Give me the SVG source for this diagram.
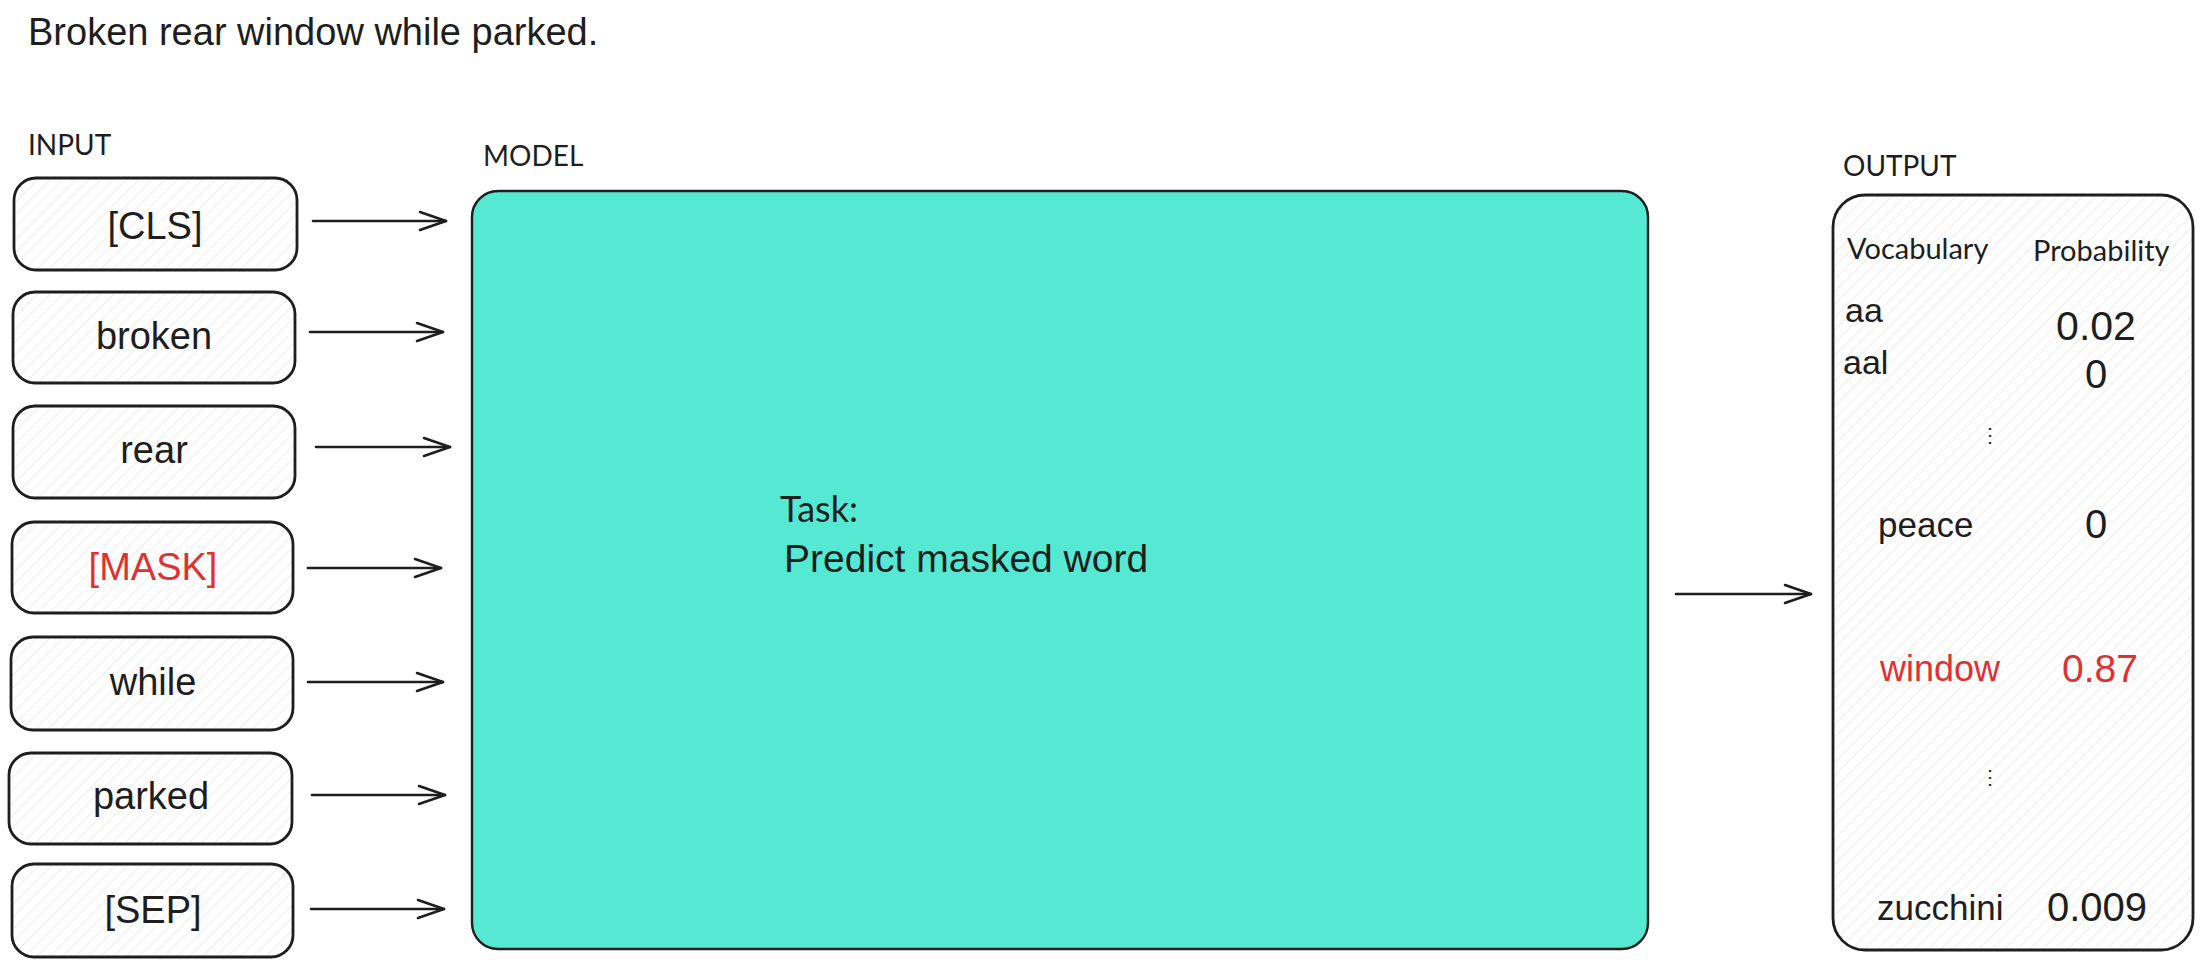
<svg xmlns="http://www.w3.org/2000/svg" width="2203" height="966" viewBox="0 0 2203 966">
<defs>
<pattern id="hatch" patternUnits="userSpaceOnUse" width="9" height="9" patternTransform="rotate(45)">
<rect width="9" height="9" fill="#ffffff"/>
<line x1="0" y1="0" x2="0" y2="9" stroke="#e4e4e4" stroke-width="1.3"/>
</pattern>
<marker id="arr" markerUnits="userSpaceOnUse" viewBox="0 0 30 22" refX="28" refY="11" markerWidth="30" markerHeight="22" orient="auto">
<path d="M2,2 L28,11 L2,20" fill="none" stroke="#1e1e1e" stroke-width="2.6" stroke-linecap="round" stroke-linejoin="round"/>
</marker>
<style>
.box{fill:url(#hatch);stroke:#1e1e1e;stroke-width:2.8}
.hand{font-family:"Liberation Sans",Arial,sans-serif;fill:#1e1e1e}
.lbl{font-family:Lato,"Noto Sans",sans-serif;fill:#1e1e1e}
.red{fill:#e03131}
.tok{font-size:38px;text-anchor:middle}
.conn line{stroke:#1e1e1e;stroke-width:2.6;stroke-linecap:round;marker-end:url(#arr)}
</style>
</defs>
<rect width="2203" height="966" fill="#ffffff"/>

<g id="title"><text class="hand" x="28" y="45" font-size="38">Broken rear window while parked.</text></g>

<g id="labels">
<text class="lbl" x="28" y="155" font-size="28">INPUT</text>
<text class="lbl" x="483" y="166" font-size="28">MODEL</text>
<text class="lbl" x="1843" y="176" font-size="28">OUTPUT</text>
</g>

<g id="tok-cls"><rect class="box" x="14" y="178" width="283" height="92" rx="22"/><text class="hand tok" x="155" y="239">[CLS]</text></g>
<g id="tok-broken"><rect class="box" x="13" y="292" width="282" height="91" rx="22"/><text class="hand tok" x="154" y="349">broken</text></g>
<g id="tok-rear"><rect class="box" x="13" y="406" width="282" height="92" rx="22"/><text class="hand tok" x="154" y="463">rear</text></g>
<g id="tok-mask"><rect class="box" x="12" y="522" width="281" height="91" rx="22"/><text class="hand tok red" x="153" y="580">[MASK]</text></g>
<g id="tok-while"><rect class="box" x="11" y="637" width="282" height="93" rx="22"/><text class="hand tok" x="153" y="695">while</text></g>
<g id="tok-parked"><rect class="box" x="9" y="753" width="283" height="91" rx="22"/><text class="hand tok" x="151" y="809">parked</text></g>
<g id="tok-sep"><rect class="box" x="12" y="864" width="281" height="93" rx="22"/><text class="hand tok" x="153" y="923">[SEP]</text></g>

<g id="model">
<rect x="472" y="191" width="1176" height="758" rx="26" fill="#55e8d3" stroke="#1e1e1e" stroke-width="2.4"/>
<text class="lbl" x="780" y="522" font-size="36">Task:</text>
<text class="hand" x="784" y="572" font-size="39">Predict masked word</text>
</g>

<g id="output">
<rect class="box" x="1833" y="195" width="360" height="755" rx="32"/>
<text class="lbl" x="1847" y="259" font-size="29">Vocabulary</text>
<text class="lbl" x="2033" y="261" font-size="29">Probability</text>
<text class="hand" x="1845" y="322" font-size="34">aa</text>
<text class="hand" x="1843" y="374" font-size="34">aal</text>
<text class="hand" x="2096" y="340" font-size="41" text-anchor="middle">0.02</text>
<text class="hand" x="2096" y="388" font-size="40" text-anchor="middle">0</text>
<text class="lbl" x="1990" y="442" font-size="20" text-anchor="middle">⋮</text>
<text class="hand" x="1878" y="537" font-size="35">peace</text>
<text class="hand" x="2096" y="538" font-size="40" text-anchor="middle">0</text>
<text class="hand red" x="1880" y="681" font-size="36">window</text>
<text class="hand red" x="2100" y="682" font-size="39" text-anchor="middle">0.87</text>
<text class="lbl" x="1990" y="784" font-size="20" text-anchor="middle">⋮</text>
<text class="hand" x="1877" y="920" font-size="35">zucchini</text>
<text class="hand" x="2097" y="921" font-size="40" text-anchor="middle">0.009</text>
</g>

<g id="connectors" class="conn">
<line x1="313" y1="221" x2="446" y2="221"/>
<line x1="310" y1="332" x2="443" y2="332"/>
<line x1="316" y1="447" x2="450" y2="447"/>
<line x1="308" y1="568" x2="441" y2="568"/>
<line x1="308" y1="682" x2="443" y2="682"/>
<line x1="312" y1="795" x2="445" y2="795"/>
<line x1="311" y1="909" x2="444" y2="909"/>
<line x1="1676" y1="594" x2="1811" y2="594"/>
</g>
</svg>
